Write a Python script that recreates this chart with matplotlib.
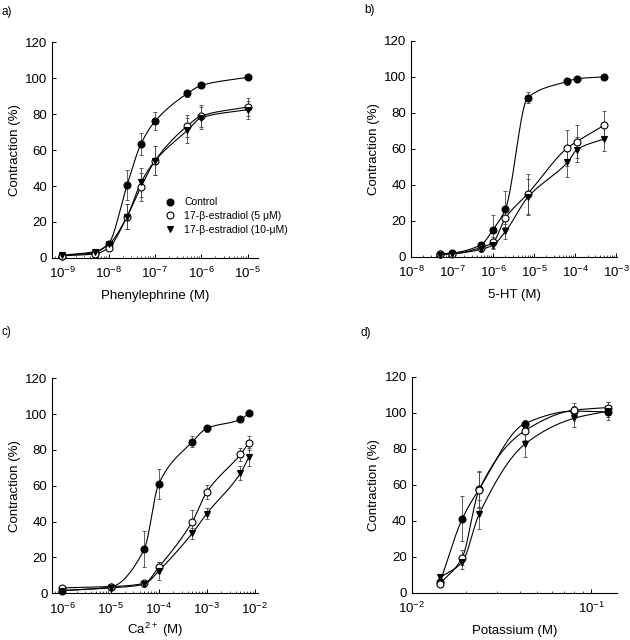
import matplotlib
matplotlib.use('Agg')
import matplotlib.pyplot as plt
import matplotlib.ticker as mticker
import numpy as np

plt.rcParams['font.family'] = ['Liberation Sans', 'DejaVu Sans']
plt.rcParams['mathtext.default'] = 'regular'

# Panel a: phenylephrine
PE_CONC = [1e-9, 5e-9, 1e-8, 2.5e-8, 5e-8, 1e-7, 5e-7, 1e-6, 1e-5]
PE_CONTROL = [1.3, 3, 8, 40.5, 63.5, 76, 91.5, 96, 100.5]
PE_E5 = [1.2, 2.2, 5.6, 23, 39.5, 54, 73.5, 79, 84]
PE_E10 = [1.5, 3.5, 7.5, 23, 42, 54, 71, 78, 82.5]
PE_CONTROL_ERR = [0.5, 0.5, 1, 8.5, 6, 5, 2, 1, 1]
PE_E5_ERR = [0.5, 0.5, 1.5, 7, 8, 8, 6, 6, 5]
PE_E10_ERR = [0.5, 0.5, 1.5, 7, 8, 8, 7, 6, 5]

# Panel b: 5-HT
HT_CONC = [5e-8, 1e-7, 5e-7, 1e-6, 2e-6, 7e-6, 6.5e-5, 1.1e-4, 5e-4]
HT_CONTROL = [1.5, 2, 6.5, 15, 26.5, 88.5, 97.5, 99, 100]
HT_E5 = [1.2, 1.5, 5, 8, 21.5, 35, 60.5, 64, 73]
HT_E10 = [1, 1.5, 4, 6.5, 14, 33, 52.5, 59.5, 65.5]
HT_CONTROL_ERR = [0.5, 0.5, 1.5, 8, 10, 3, 2, 1, 1]
HT_E5_ERR = [0.5, 0.5, 1.5, 3, 5, 11, 10, 9, 8]
HT_E10_ERR = [0.5, 0.5, 1.5, 2, 4, 10, 8, 7, 7]

# Panel c: calcium
CA_CONC = [1e-6, 1e-5, 5e-5, 1e-4, 5e-4, 1e-3, 5e-3, 7.5e-3]
CA_CONTROL = [1.5, 3.5, 24.5, 61, 84.5, 92, 97, 100.5]
CA_E5 = [3, 3.7, 5.5, 14.5, 40, 56.5, 77.5, 84]
CA_E10 = [1.5, 3, 5, 12.5, 33.5, 44.5, 67, 76]
CA_CONTROL_ERR = [0.5, 0.5, 10, 8.5, 3, 2, 1, 1]
CA_E5_ERR = [0.5, 0.5, 1.5, 3, 6.5, 4, 3.5, 4]
CA_E10_ERR = [0.5, 0.5, 1.5, 5, 3, 3, 4, 5]

# Panel d: potassium
K_CONC = [0.0144, 0.0191, 0.0237, 0.0425, 0.080, 0.124]
K_CONTROL = [6, 41, 57.5, 94, 101, 100.5]
K_E5 = [5, 19.5, 57, 90, 101.5, 103]
K_E10 = [8.5, 17, 43.5, 82.5, 97, 101]
K_CONTROL_ERR = [2, 12.5, 10, 2, 3, 3]
K_E5_ERR = [2, 4, 10, 5, 4, 3]
K_E10_ERR = [2, 4, 8, 7, 5, 5]

LABELS = ['Control', u'17-\u03b2-estradiol (5 \u03bcM)', u'17-\u03b2-estradiol (10-\u03bcM)']


def smooth_line(x, y, n=300):
    """Monotone cubic curve through the points, in log-x space."""
    lx = np.log10(np.asarray(x, float))
    y = np.asarray(y, float)
    h = np.diff(lx)
    d = np.diff(y) / h
    m = np.zeros_like(y)
    m[0], m[-1] = d[0], d[-1]
    for k in range(1, len(y) - 1):
        if d[k - 1] * d[k] > 0:
            w1 = 2 * h[k] + h[k - 1]
            w2 = h[k] + 2 * h[k - 1]
            m[k] = (w1 + w2) / (w1 / d[k - 1] + w2 / d[k])
    xs = np.linspace(lx[0], lx[-1], n)
    idx = np.clip(np.searchsorted(lx, xs) - 1, 0, len(h) - 1)
    t = (xs - lx[idx]) / h[idx]
    h00 = 2 * t ** 3 - 3 * t ** 2 + 1
    h10 = t ** 3 - 2 * t ** 2 + t
    h01 = -2 * t ** 3 + 3 * t ** 2
    h11 = t ** 3 - t ** 2
    ys = h00 * y[idx] + h10 * h[idx] * m[idx] + h01 * y[idx + 1] + h11 * h[idx] * m[idx + 1]
    return 10 ** xs, ys


def draw_panel(ax, conc, series, errors, xlim, xlabel, letter, letter_xy, xpad=6):
    styles = [
        dict(marker='o', mfc='black', mec='black', ms=5),
        dict(marker='o', mfc='white', mec='black', ms=5),
        dict(marker='v', mfc='black', mec='black', ms=5),
    ]
    for vals, errs, st, lab in zip(series, errors, styles, LABELS):
        xs, ys = smooth_line(conc, vals)
        ax.plot(xs, ys, color='black', lw=0.8, zorder=2)
        ax.errorbar(conc, vals, yerr=errs, fmt='none', ecolor='#444444', elinewidth=0.6,
                    capsize=1.5, capthick=0.6, zorder=3)
        ax.plot(conc, vals, linestyle='none', mew=0.8, zorder=4, label=lab, clip_on=False, **st)
    ax.set_xscale('log')
    ax.xaxis.set_major_locator(mticker.LogLocator(base=10, numticks=20))
    ax.xaxis.set_minor_locator(mticker.LogLocator(base=10, subs=np.arange(2, 10), numticks=20))
    ax.set_xlim(*xlim)
    ax.set_ylim(0, 120)
    ax.set_yticks([0, 20, 40, 60, 80, 100, 120])
    ax.spines['top'].set_visible(False)
    ax.spines['right'].set_visible(False)
    for s in ['left', 'bottom']:
        ax.spines[s].set_linewidth(0.8)
    ax.tick_params(which='major', direction='in', length=3, width=0.7, labelsize=9.5)
    ax.tick_params(axis='x', which='major', pad=6)
    ax.tick_params(which='minor', direction='in', length=1.5, width=0.5)
    ax.set_xlabel(xlabel, fontsize=9.5, labelpad=xpad)
    ax.set_ylabel('Contraction (%)', fontsize=9.5, labelpad=3)
    ax.figure.text(letter_xy[0], letter_xy[1], letter, fontsize=8.5, ha='left', va='center')


fig = plt.figure(figsize=(6.3, 6.4), dpi=100)
ax_a = fig.add_axes([0.0825, 0.597, 0.327, 0.337])
ax_b = fig.add_axes([0.6524, 0.599, 0.327, 0.337])
ax_c = fig.add_axes([0.083, 0.073, 0.327, 0.336])
ax_d = fig.add_axes([0.6535, 0.074, 0.326, 0.337])

draw_panel(ax_a, PE_CONC, [PE_CONTROL, PE_E5, PE_E10], [PE_CONTROL_ERR, PE_E5_ERR, PE_E10_ERR],
           (10 ** -9.22, 10 ** -4.78), 'Phenylephrine (M)', 'a)', (0.003, 0.981))
draw_panel(ax_b, HT_CONC, [HT_CONTROL, HT_E5, HT_E10], [HT_CONTROL_ERR, HT_E5_ERR, HT_E10_ERR],
           (1e-8, 10 ** -2.98), '5-HT (M)', 'b)', (0.578, 0.984))
draw_panel(ax_c, CA_CONC, [CA_CONTROL, CA_E5, CA_E10], [CA_CONTROL_ERR, CA_E5_ERR, CA_E10_ERR],
           (10 ** -6.21, 10 ** -1.93), 'Ca$^{2+}$ (M)', 'c)', (0.003, 0.481), xpad=3)
draw_panel(ax_d, K_CONC, [K_CONTROL, K_E5, K_E10], [K_CONTROL_ERR, K_E5_ERR, K_E10_ERR],
           (0.01, 0.139), 'Potassium (M)', 'd)', (0.572, 0.479))

ax_a.legend(loc='upper left', bbox_to_anchor=(0.52, 0.3), frameon=False, fontsize=7.5,
            handlelength=1.2, handletextpad=0.8, labelspacing=0.35, borderaxespad=0)

fig.savefig('out.png', dpi=100)
